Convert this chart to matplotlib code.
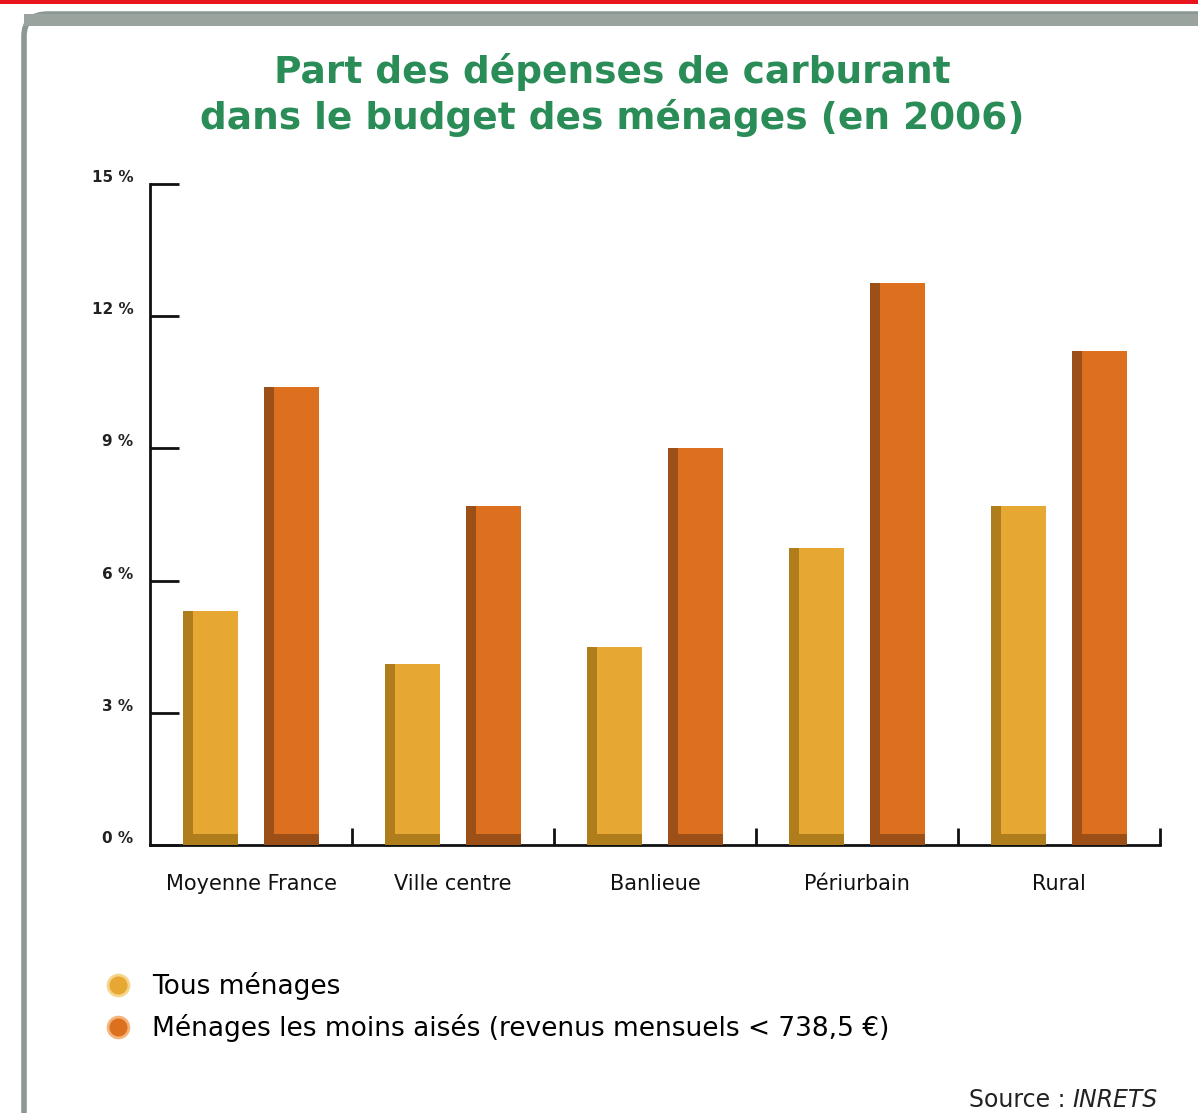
import matplotlib
matplotlib.use("Agg")
import matplotlib.pyplot as plt
import matplotlib.transforms as mtransforms
from matplotlib.patches import FancyBboxPatch, Rectangle
from matplotlib.lines import Line2D
import numpy as np

# Data
categories = ["Moyenne France", "Ville centre", "Banlieue", "Périurbain", "Rural"]
tous_menages = [5.3, 4.1, 4.5, 6.75, 7.7]
moins_aises = [10.4, 7.7, 9.0, 12.75, 11.2]
series_labels = ["Tous ménages",
                 "Ménages les moins aisés (revenus mensuels < 738,5 €)"]
ytick_values = [0, 3, 6, 9, 12, 15]
ytick_labels = ["0 %", "3 %", "6 %", "9 %", "12 %", "15 %"]

col_tous = "#e6a832"
col_tous_dark = "#b07d1c"
col_moins = "#dd701e"
col_moins_dark = "#9c5018"
green = "#2a8c57"

fig = plt.figure(figsize=(11.98, 11.13), dpi=100)
W, H = 1198, 1113

# Frame decoration: red line at top, grey rounded panel (behind the axes)
fig.patches.append(Rectangle((0, 1 - 4 / H), 1, 4 / H, transform=fig.transFigure,
                             facecolor="#e8141c", edgecolor="none", zorder=-2))
fig.patches.append(FancyBboxPatch((24 / W, -0.1), 1.2, 1 - 14 / H + 0.1,
                                  boxstyle="round,pad=0,rounding_size=0.02",
                                  transform=fig.transFigure, facecolor="white",
                                  edgecolor="#8c9892", linewidth=4, zorder=-2))
fig.patches.append(Rectangle((24 / W, 1 - 26 / H), 1, 12 / H, transform=fig.transFigure,
                             facecolor="#9aa39e", edgecolor="none", zorder=-2))

ax = fig.add_axes([150 / W, 1 - 845 / H, 1010 / W, 661 / H])
ax.set_facecolor("none")

x = np.arange(len(categories))
w = 0.275
off = 0.2
edge = 0.05

# Main bars
ax.bar(x - off, tous_menages, w, color=col_tous, zorder=2)
ax.bar(x + off, moins_aises, w, color=col_moins, zorder=2)
# Shaded left edges for a 3D look
ax.bar(x - off - w / 2 + edge / 2, tous_menages, edge, color=col_tous_dark, zorder=3)
ax.bar(x + off - w / 2 + edge / 2, moins_aises, edge, color=col_moins_dark, zorder=3)
# Darker strip at the bottom
ax.bar(x - off, 0.25, w, color=col_tous_dark, zorder=3)
ax.bar(x + off, 0.25, w, color=col_moins_dark, zorder=3)

ax.set_xlim(-0.5, len(categories) - 0.5)
ax.set_ylim(0, 15)

for s in ["top", "right"]:
    ax.spines[s].set_visible(False)
for s in ["left", "bottom"]:
    ax.spines[s].set_linewidth(2)
    ax.spines[s].set_color("#111111")

ax.set_yticks(ytick_values)
ax.set_yticklabels(ytick_labels, fontsize=11, fontweight="bold", color="#222222")
ax.tick_params(axis="y", direction="in", length=21, width=2, pad=12, color="#111111")
shift = mtransforms.ScaledTranslation(0, 8 / 100, fig.dpi_scale_trans)
for lab in ax.get_yticklabels():
    lab.set_transform(lab.get_transform() + shift)

ax.set_xticks(x)
ax.set_xticklabels(categories, fontsize=15, color="#111111")
ax.tick_params(axis="x", which="major", length=0, pad=21)
ax.set_xticks(np.arange(len(categories)) + 0.5, minor=True)
ax.tick_params(axis="x", which="minor", direction="in", length=12, width=2, color="#111111")

fig.text(612 / W, 1 - 72 / H, "Part des dépenses de carburant", ha="center", va="center",
         fontsize=27, fontweight="bold", color=green)
fig.text(612 / W, 1 - 118 / H, "dans le budget des ménages (en 2006)", ha="center",
         va="center", fontsize=27, fontweight="bold", color=green)

handles = [Line2D([], [], marker="o", linestyle="none", markersize=15,
                  markerfacecolor=col_tous, markeredgecolor="#f6d48a", markeredgewidth=2),
           Line2D([], [], marker="o", linestyle="none", markersize=15,
                  markerfacecolor=col_moins, markeredgecolor="#f4b47a", markeredgewidth=2)]
fig.legend(handles, series_labels, loc="upper left", bbox_to_anchor=(68 / W, 1 - 948 / H),
           frameon=False, handletextpad=0.3, labelspacing=0.55, prop={"size": 19})

src = fig.text(1158 / W, 1 - 1100 / H, "INRETS", ha="right", va="center", fontsize=17,
               style="italic", color="#222222")
ax.annotate("Source : ", xy=(0, 0.5), xycoords=src, ha="right", va="center",
            fontsize=17, color="#222222", annotation_clip=False)

fig.savefig("out.png", dpi=100)
